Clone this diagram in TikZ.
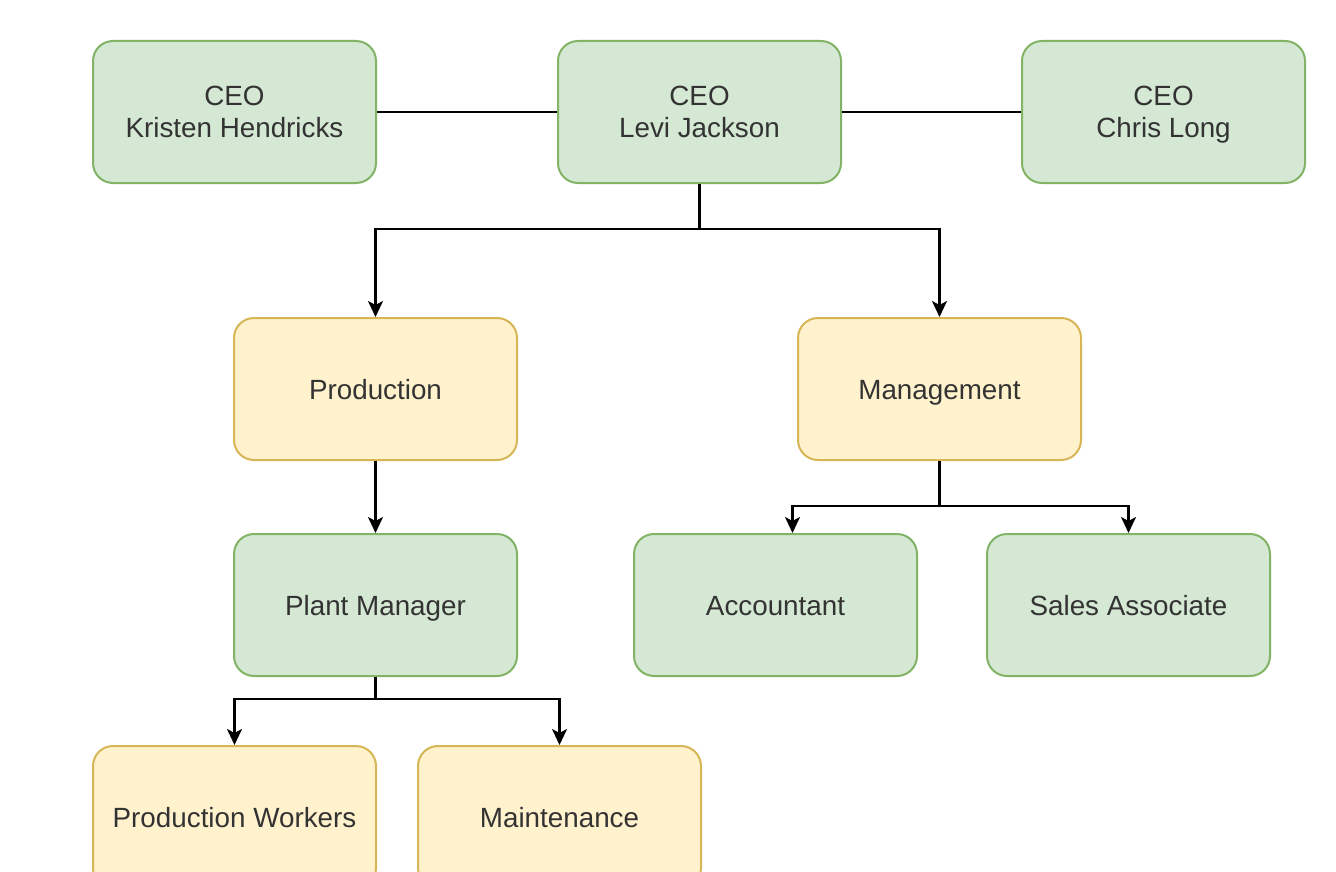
\documentclass[tikz,border=0pt]{standalone}
\usepackage{fontspec}
\setmainfont{Liberation Sans}
\usetikzlibrary{arrows.meta,calc}
\definecolor{gfill}{HTML}{D5E8D4}
\definecolor{gline}{HTML}{82B366}
\definecolor{yfill}{HTML}{FFF2CC}
\definecolor{yline}{HTML}{D6B656}
\definecolor{txt}{HTML}{333333}
\newcommand{\nodepth}[1]{\raisebox{0pt}[\height][0pt]{#1}}
\begin{document}
\begin{tikzpicture}[x=1pt,y=-1pt,
  box/.style={rectangle, rounded corners=20pt, minimum width=283pt, minimum height=142pt, line width=2pt, align=center, text=txt, font=\fontsize{27.8}{32}\selectfont, inner sep=0pt},
  one/.style={text height=24pt, text depth=4pt},
  gbox/.style={box, fill=gfill, draw=gline},
  ybox/.style={box, fill=yfill, draw=yline},
  conn/.style={line width=2.3pt, black},
  arr/.style={conn, -{Stealth[length=16pt,width=15pt,inset=4pt]}}]
\useasboundingbox (0,0) rectangle (1336,872);
\clip (0,0) rectangle (1336,872);
\fill[white] (0,0) rectangle (1336,872);
% nodes
\node[gbox] (kh) at (234.5,112) {CEO\\\nodepth{Kristen Hendricks}};
\node[gbox] (lj) at (699.5,112) {CEO\\\nodepth{Levi Jackson}};
\node[gbox] (cl) at (1163.5,112) {CEO\\\nodepth{Chris Long}};
\node[ybox, one] (prod) at (375.5,389) {Production};
\node[ybox, one] (mgmt) at (939.5,389) {Management};
\node[gbox, one] (pm) at (375.5,605) {Plant Manager};
\node[gbox, one] (acc) at (775.5,605) {Accountant};
\node[gbox, one] (sa) at (1128.5,605) {Sales Associate};
\node[ybox, one] (pw) at (234.5,817) {Production Workers};
\node[ybox, one] (mt) at (559.5,817) {Maintenance};
% junctions
\coordinate (j1) at (699.5,229);
\coordinate (j2) at (939.5,506);
\coordinate (j3) at (375.5,699);
% connectors
\draw[conn] (kh) -- (lj);
\draw[conn] (lj) -- (cl);
\draw[conn] (lj.south) -- (j1);
\draw[arr] (j1) -| (prod.north);
\draw[arr] (j1) -| (mgmt.north);
\draw[arr] (prod.south) -- (pm.north);
\draw[conn] (mgmt.south) -- (j2);
\draw[arr] (j2) -| ([xshift=17pt]acc.north);
\draw[arr] (j2) -| (sa.north);
\draw[conn] (pm.south) -- (j3);
\draw[arr] (j3) -| (pw.north);
\draw[arr] (j3) -| (mt.north);
\end{tikzpicture}
\end{document}
